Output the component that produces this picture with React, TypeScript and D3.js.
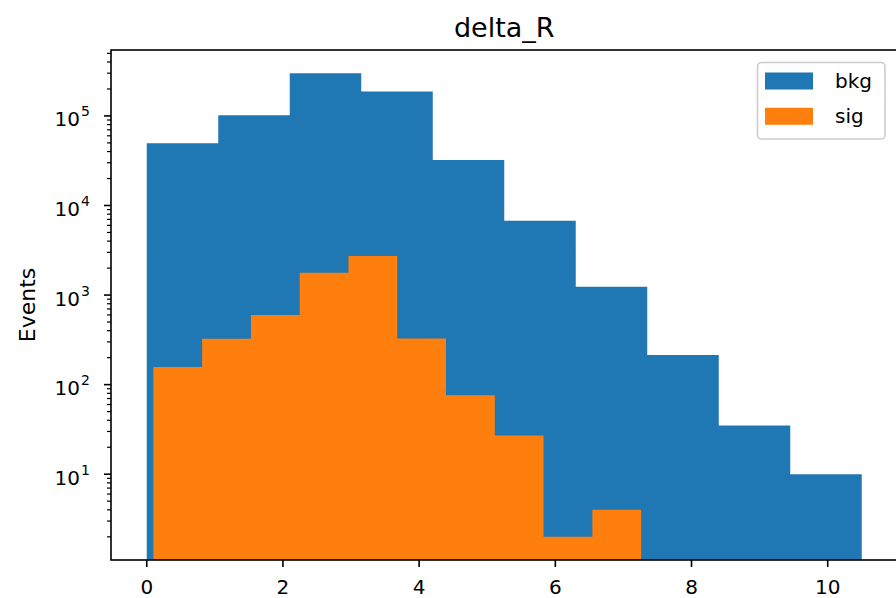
import React from "react";
import * as d3 from "d3";

// Histogram of delta_R, background vs signal, log-scaled event counts
const bkgRange = [0, 10.5];
const bkgCounts = [49500, 102000, 300000, 187000, 32200, 6770, 1240, 214, 35, 10];
const sigRange = [0.097, 7.26];
const sigCounts = [157, 325, 598, 1775, 2730, 328, 76, 27, 2, 4];
const xTickValues = [0, 2, 4, 6, 8, 10];
const yDecades = [1, 2, 3, 4, 5];
const seriesNames = ["bkg", "sig"];
const seriesColors = ["#1f77b4", "#ff7f0e"];
const titleText = "delta_R";
const yLabelText = "Events";

const W = 896;
const H = 598;
const plot = { left: 111, top: 50, bottom: 560, right: 897.5 };
const FONT = "'DejaVu Sans', sans-serif";

function binEdges(range: number[], n: number) {
  const step = (range[1] - range[0]) / n;
  return d3.range(n + 1).map((i) => range[0] + i * step);
}

export default function App() {
  const bkgEdges = binEdges(bkgRange, bkgCounts.length);
  const sigEdges = binEdges(sigRange, sigCounts.length);

  const xMin = Math.min(bkgRange[0], sigRange[0]);
  const xMax = Math.max(bkgRange[1], sigRange[1]);
  const xPad = (xMax - xMin) * 0.05;
  const x = d3.scaleLinear().domain([xMin - xPad, xMax + xPad]).range([plot.left, plot.right]);

  const all = [...bkgCounts, ...sigCounts];
  const lo = Math.log10(d3.min(all)!);
  const hi = Math.log10(d3.max(all)!);
  const lPad = (hi - lo) * 0.05;
  const y = d3
    .scaleLog()
    .domain([Math.pow(10, lo - lPad), Math.pow(10, hi + lPad)])
    .range([plot.bottom, plot.top]);
  const [yLo, yHi] = y.domain();

  const minorTicks: number[] = [];
  for (let e = -1; e <= 6; e++) {
    for (let m = 2; m <= 9; m++) {
      const v = m * Math.pow(10, e);
      if (v >= yLo && v <= yHi) minorTicks.push(v);
    }
  }

  // filled step outline for one histogram series
  const stepArea = d3
    .area<[number, number]>()
    .x((d) => x(d[0]))
    .y0(plot.bottom)
    .y1((d) => y(d[1]))
    .curve(d3.curveStepAfter);

  const histPath = (edges: number[], counts: number[]) => {
    const pts: [number, number][] = counts.map((c, i) => [edges[i], c]);
    pts.push([edges[edges.length - 1], counts[counts.length - 1]]);
    return stepArea(pts) || "";
  };

  const legendX = 757.5;
  const legendY = 62.5;

  return (
    <svg
      width={W}
      height={H}
      style={{ position: "absolute", left: 0, top: 0, background: "#fff" }}
      fontFamily={FONT}
    >
      <rect x={0} y={0} width={W} height={H} fill="#fff" />
      <defs>
        <clipPath id="plotClip">
          <rect x={plot.left} y={plot.top} width={plot.right - plot.left} height={plot.bottom - plot.top} />
        </clipPath>
      </defs>

      <g clipPath="url(#plotClip)">
        <path d={histPath(bkgEdges, bkgCounts)} fill={seriesColors[0]} />
        <path d={histPath(sigEdges, sigCounts)} fill={seriesColors[1]} />
      </g>

      {/* y minor ticks */}
      {minorTicks.map((v, i) => (
        <line key={`mt-${i}`} x1={plot.left - 4} x2={plot.left} y1={y(v)} y2={y(v)} stroke="#000" strokeWidth={1.2} />
      ))}
      {/* y major ticks and labels */}
      {yDecades.map((e) => {
        const yy = y(Math.pow(10, e));
        return (
          <g key={`yt-${e}`}>
            <line x1={plot.left - 7} x2={plot.left} y1={yy} y2={yy} stroke="#000" strokeWidth={1.6} />
            <text x={80} y={yy + 10.5} textAnchor="end" fontSize={20} fill="#000">
              10
            </text>
            <text x={81} y={yy + 0.5} textAnchor="start" fontSize={14} fill="#000">
              {e}
            </text>
          </g>
        );
      })}

      {/* x ticks and labels */}
      {xTickValues.map((v) => (
        <g key={`xt-${v}`}>
          <line x1={x(v)} x2={x(v)} y1={plot.bottom} y2={plot.bottom + 7} stroke="#000" strokeWidth={1.6} />
          <text x={x(v)} y={594} textAnchor="middle" fontSize={20} fill="#000">
            {v}
          </text>
        </g>
      ))}

      {/* spines */}
      <rect
        x={plot.left}
        y={plot.top}
        width={plot.right - plot.left}
        height={plot.bottom - plot.top}
        fill="none"
        stroke="#000"
        strokeWidth={1.6}
      />

      {/* title and axis label */}
      <text x={(plot.left + plot.right) / 2} y={37} textAnchor="middle" fontSize={27} fill="#000">
        {titleText}
      </text>
      <text
        transform={`translate(35, ${(plot.top + plot.bottom) / 2}) rotate(-90)`}
        textAnchor="middle"
        fontSize={22}
        fill="#000"
      >
        {yLabelText}
      </text>

      {/* legend */}
      <rect
        x={legendX}
        y={legendY}
        width={127.5}
        height={76.5}
        rx={4}
        fill="#fff"
        fillOpacity={0.8}
        stroke="#cccccc"
        strokeWidth={1.6}
      />
      {seriesNames.map((name, i) => (
        <g key={name}>
          <rect x={765} y={72.5 + i * 35.3} width={48} height={17} fill={seriesColors[i]} />
          <text x={835} y={88 + i * 35.3} fontSize={20} fill="#000">
            {name}
          </text>
        </g>
      ))}
    </svg>
  );
}
